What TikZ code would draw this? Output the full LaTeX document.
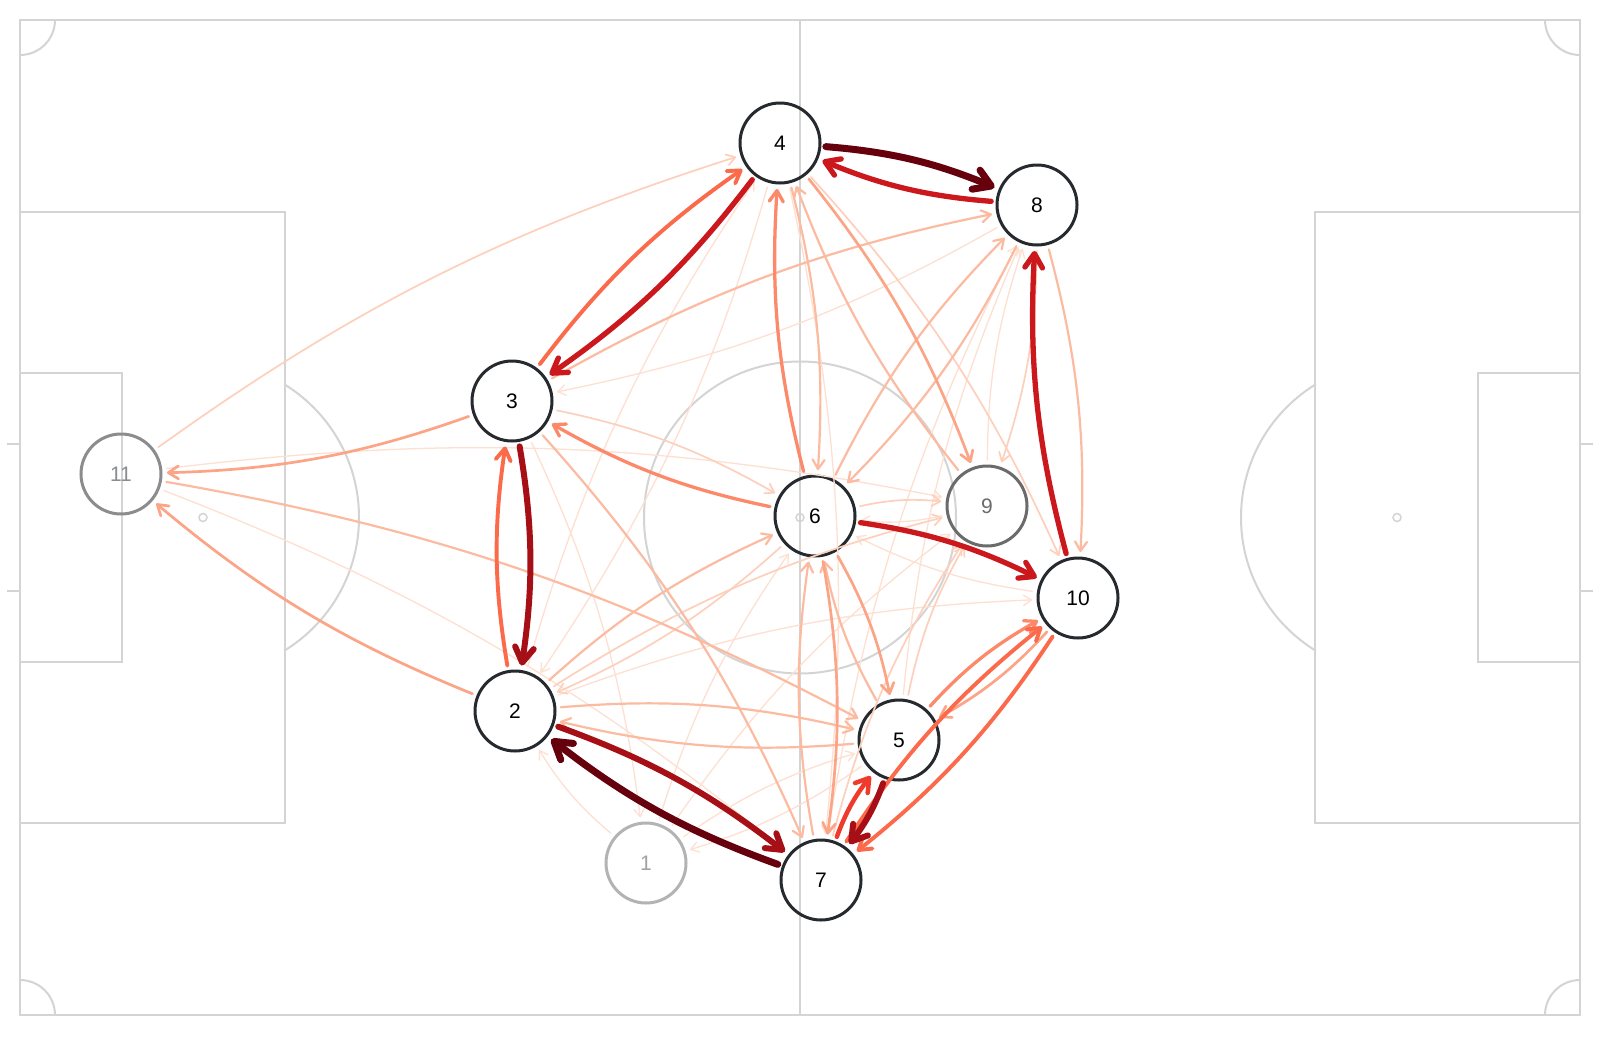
\documentclass[tikz,border=0pt]{standalone}
\usepackage{fontspec}
\setmainfont{Liberation Sans}
\usetikzlibrary{arrows.meta}
\definecolor{pline}{HTML}{D4D4D4}
\definecolor{ndark}{HTML}{262A2E}
\definecolor{ngrayA}{HTML}{8A8C8E}
\definecolor{ngrayB}{HTML}{6B6B6B}
\definecolor{ngrayC}{HTML}{B3B3B3}
\definecolor{ra}{HTML}{FEE0D2}
\definecolor{rb}{HTML}{FDD0BC}
\definecolor{rc}{HTML}{FCBBA1}
\definecolor{rd}{HTML}{FCA486}
\definecolor{re}{HTML}{FC8A6A}
\definecolor{rf}{HTML}{FB6A4A}
\definecolor{rg}{HTML}{EF3B2C}
\definecolor{rh}{HTML}{CB181D}
\definecolor{ri}{HTML}{A50F15}
\definecolor{rj}{HTML}{67000D}
\tikzset{
  pl/.style={draw=pline, line width=2pt},
  pn/.style={circle, draw=ndark, line width=3pt, minimum size=80pt, inner sep=0pt, outer sep=6pt, font=\fontsize{21}{24}\selectfont, text=black},
  ed/.style={line cap=round, -{Straight Barb[length=6pt 1.5,width=8pt 1.8,round]}, bend left=9, looseness=0.95},
  e1/.style={ed, draw=ra, line width=1.3pt},
  e2/.style={ed, draw=rb, line width=1.7pt},
  e3/.style={ed, draw=rc, line width=2.2pt},
  e4/.style={ed, draw=rd, line width=2.7pt},
  e5/.style={ed, draw=re, line width=3.3pt},
  e6/.style={ed, draw=rf, line width=3.9pt},
  e7/.style={ed, draw=rg, line width=4.5pt},
  e8/.style={ed, draw=rh, line width=5.3pt},
  e9/.style={ed, draw=ri, line width=6pt},
  e10/.style={ed, draw=rj, line width=7pt}
}
\newcommand\edg[3]{\draw[#1] (n#2) to (n#3);}
\begin{document}
\begin{tikzpicture}[x=1pt,y=-1pt]
\useasboundingbox (0,0) rectangle (1600,1036);
\fill[white] (0,0) rectangle (1600,1036);
% pitch
\draw[pl] (20,20) rectangle (1580,1015);
\draw[pl] (800,20) -- (800,1015);
\draw[pl] (800,517.5) circle[radius=156];
\draw[pl, line width=1.5pt] (800,517.5) circle[radius=4];
\draw[pl] (20,212) rectangle (285,823);
\draw[pl] (20,373) rectangle (122,662);
\draw[pl] (1580,212) rectangle (1315,823);
\draw[pl] (1580,373) rectangle (1478,662);
\draw[pl] (7,444) -- (20,444);
\draw[pl] (7,591) -- (20,591);
\draw[pl] (1580,444) -- (1593,444);
\draw[pl] (1580,591) -- (1593,591);
\draw[pl, line width=1.5pt] (203,517.5) circle[radius=4];
\draw[pl, line width=1.5pt] (1397,517.5) circle[radius=4];
\begin{scope}
  \clip (284,0) rectangle (500,1036);
  \draw[pl] (203,517.5) circle[radius=156];
\end{scope}
\begin{scope}
  \clip (1100,0) rectangle (1316,1036);
  \draw[pl] (1397,517.5) circle[radius=156];
\end{scope}
\begin{scope}
  \clip (20,20) rectangle (1580,1015);
  \foreach \p in {(20,20),(1580,20),(20,1015),(1580,1015)}
    \draw[pl] \p circle[radius=35];
\end{scope}
% players
\node[pn, draw=ngrayC, text=ngrayC!90!black] (n1) at (646,863) {1};
\node[pn] (n2) at (515,711) {2};
\node[pn] (n3) at (512,401) {3};
\node[pn] (n4) at (780,143) {4};
\node[pn] (n5) at (899,740) {5};
\node[pn] (n6) at (815,516) {6};
\node[pn] (n7) at (821,880) {7};
\node[pn] (n8) at (1037,205) {8};
\node[pn, draw=ngrayB, text=ngrayB] (n9) at (987,506) {9};
\node[pn] (n10) at (1078,598) {10};
\node[pn, draw=ngrayA, text=ngrayA] (n11) at (121,474) {11};
% passes, light to dark
\edg{e1}{8}{3}
\edg{e1}{11}{9}
\edg{e1}{11}{7}
\edg{e1}{4}{2}
\edg{e1}{2}{4}
\edg{e1}{9}{8}
\edg{e1}{3}{1}
\edg{e1}{1}{6}
\edg{e1}{1}{2}
\edg{e1}{5}{1}
\edg{e1}{1}{5}
\edg{e1}{1}{9}
\edg{e1}{10}{6}
\edg{e1}{9}{6}
\edg{e1}{2}{10}
\edg{e1}{4}{7}
\edg{e1}{7}{8}
\edg{e1}{5}{8}
\edg{e2}{11}{4}
\edg{e2}{4}{10}
\edg{e2}{8}{9}
\edg{e2}{3}{6}
\edg{e2}{6}{2}
\edg{e2}{2}{9}
\edg{e2}{7}{9}
\edg{e2}{5}{9}
\edg{e2}{6}{9}
\edg{e3}{4}{6}
\edg{e3}{9}{4}
\edg{e3}{3}{8}
\edg{e3}{8}{6}
\edg{e3}{6}{8}
\edg{e3}{8}{10}
\edg{e3}{2}{6}
\edg{e3}{2}{5}
\edg{e3}{5}{2}
\edg{e3}{7}{6}
\edg{e3}{5}{6}
\edg{e3}{3}{7}
\edg{e3}{11}{5}
\edg{e4}{4}{9}
\edg{e4}{10}{5}
\edg{e4}{3}{11}
\edg{e4}{2}{11}
\edg{e4}{6}{5}
\edg{e4}{6}{7}
\edg{e5}{6}{3}
\edg{e5}{6}{4}
\edg{e5}{5}{10}
\edg{e6}{3}{4}
\edg{e6}{2}{3}
\edg{e6}{10}{7}
\edg{e6}{7}{10}
\edg{e7}{7}{5}
\edg{e8}{8}{4}
\edg{e8}{4}{3}
\edg{e8}{6}{10}
\edg{e8}{10}{8}
\edg{e9}{3}{2}
\edg{e9}{2}{7}
\edg{e9}{5}{7}
\edg{e10}{4}{8}
\edg{e10}{7}{2}
\end{tikzpicture}
\end{document}
